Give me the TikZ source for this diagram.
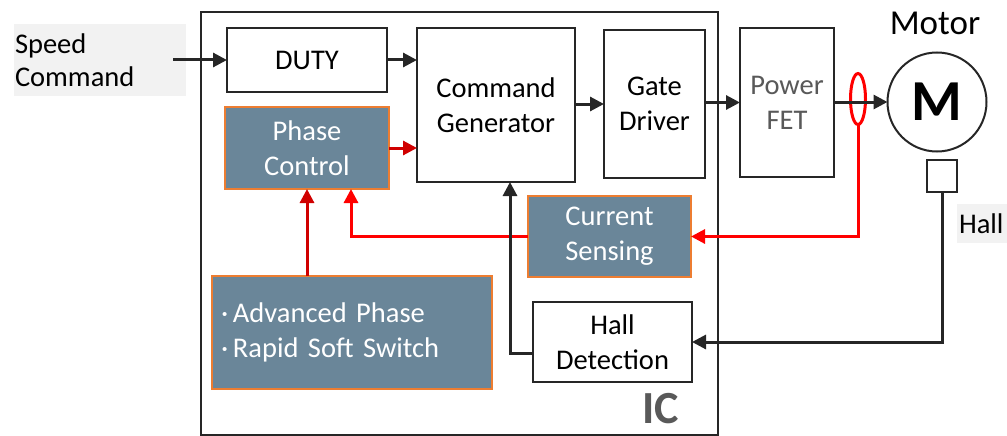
\documentclass[tikz,border=0pt]{standalone}
\usepackage{fontspec}
\setmainfont{Carlito}
\usetikzlibrary{arrows.meta,calc,shapes.geometric}
\definecolor{slate}{HTML}{6A8699}
\definecolor{edgeorange}{HTML}{ED7D31}
\definecolor{ink}{HTML}{262626}
\definecolor{labelgray}{HTML}{F2F2F2}
\definecolor{txtgray}{HTML}{595959}
\definecolor{brightred}{HTML}{FF0000}
\definecolor{darkred}{HTML}{D00000}
\tikzset{
  txt/.style={font=\fontsize{28.5}{35}\selectfont, align=center},
  wbox/.style={txt, draw=ink, line width=2pt, fill=white, inner sep=0pt, outer sep=0pt},
  sbox/.style={txt, draw=edgeorange, line width=1.5pt, fill=slate, text=white, inner sep=0pt, outer sep=0pt},
  karr/.style={draw=ink, line width=3pt, -{Triangle[length=14pt,width=14pt]}},
  rarr/.style={draw=brightred, line width=3pt, -{Triangle[length=14pt,width=14pt]}},
  drarr/.style={draw=darkred, line width=3pt, -{Triangle[length=14pt,width=14pt]}},
}
\begin{document}
\begin{tikzpicture}[x=1pt,y=-1pt]
\useasboundingbox (0,0) rectangle (1007,436);
% IC frame
\node[draw=ink, line width=2pt, minimum width=517pt, minimum height=423pt, inner sep=0pt] (ic) at (459.5,223.5) {};
\node[font=\fontsize{46}{50}\selectfont\bfseries, text=txtgray] (iclabel) at (661,409) {IC};
% labels
\node[fill=labelgray, txt, align=left, text width=170pt, inner xsep=1pt, inner ysep=0pt, minimum height=72pt, font=\fontsize{28.5}{33}\selectfont] (speed) at (100,60) {Speed\\Command};
\node[fill=labelgray, txt, align=left, text width=48pt, inner xsep=2pt, inner ysep=0pt, minimum height=39pt] (halllbl) at (983,223.5) {Hall};
% blocks
\node[wbox, minimum width=160pt, minimum height=64pt] (duty) at (307,60) {DUTY};
\node[wbox, minimum width=158pt, minimum height=154pt] (cg) at (496,105) {Command\\Generator};
\node[wbox, minimum width=101pt, minimum height=148pt] (gd) at (654.5,104) {Gate\\Driver};
\node[wbox, text=txtgray, minimum width=94pt, minimum height=149pt] (fet) at (787,102.5) {Power\\FET};
\node[sbox, minimum width=164pt, minimum height=82pt] (phase) at (307,148) {Phase\\Control};
\node[sbox, minimum width=163pt, minimum height=81pt] (cs) at (609.5,236.5) {Current\\Sensing};
\node[sbox, align=left, text width=262pt, inner xsep=9pt, minimum height=113pt] (adv) at (352,332.5) {·\,Advanced Phase\\·\,Rapid Soft Switch};
\node[wbox, minimum width=159pt, minimum height=80pt] (hd) at (612.5,342) {Hall\\Detection};
% motor
\node[circle, draw=ink, line width=2pt, minimum size=99pt, inner sep=0pt, outer sep=0pt, font=\fontsize{58}{60}\selectfont\bfseries] (motor) at (937,102) {M};
\node[font=\fontsize{35}{40}\selectfont] (motorlbl) at (935,23) {Motor};
\node[draw=ink, line width=2pt, minimum width=30pt, minimum height=32pt, inner sep=0pt, outer sep=0pt] (sq) at (942,176) {};
\node[ellipse, draw=brightred, line width=3pt, minimum width=15pt, minimum height=51pt, inner sep=0pt, outer sep=0pt] (ell) at (858,99) {};
% connectors
\coordinate (sc) at (173,60);
\draw[karr] (sc) -- (duty.west);
\draw[karr] (duty.east) -- (duty.east -| cg.west);
\draw[karr] (cg.east |- gd.west) -- (gd.west);
\draw[karr] (gd.east |- fet.west) -- (fet.west);
\draw[karr] (fet.east |- motor.west) -- (motor.west);
\draw[drarr] (phase.east) -- (phase.east -| cg.west);
\draw[drarr] (phase.south |- adv.north) -- (phase.south);
\coordinate (pcin) at (351,189);
\draw[rarr] (cs.west) -| (pcin);
\draw[rarr] (ell.south) |- (cs.east);
\draw[karr] (sq.south) |- (hd.east);
\coordinate (cgin) at (510,182);
\draw[karr] ([yshift=-11pt]hd.west) -| (cgin);
\end{tikzpicture}
\end{document}
